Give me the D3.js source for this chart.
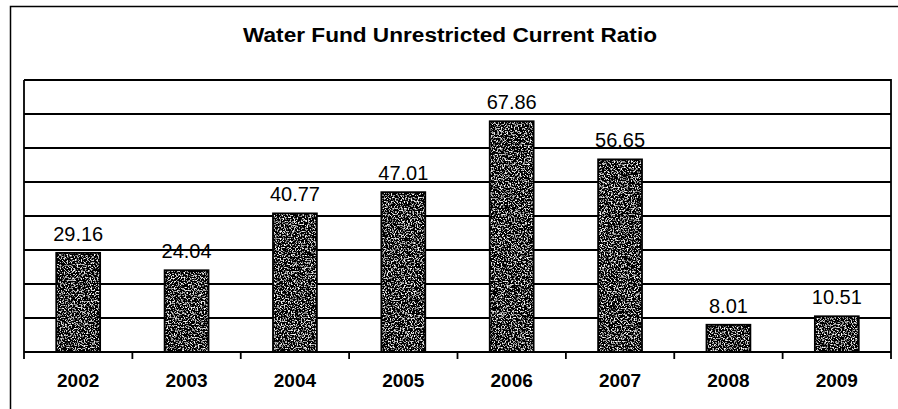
<!DOCTYPE html>
<html>
<head>
<meta charset="utf-8">
<script src="https://cdn.jsdelivr.net/npm/d3@7"></script>
<style>
  html, body { margin: 0; padding: 0; background: #fff; }
  svg { display: block; }
  text { font-family: "Liberation Sans", Arial, sans-serif; fill: #000; }
</style>
</head>
<body>
<svg id="chart" width="898" height="409"></svg>
<script>
// ---- data ----
const title = "Water Fund Unrestricted Current Ratio";
const years = ["2002", "2003", "2004", "2005", "2006", "2007", "2008", "2009"];
const ratios = [29.16, 24.04, 40.77, 47.01, 67.86, 56.65, 8.01, 10.51];
const gridValues = [10, 20, 30, 40, 50, 60, 70];
const yMax = 80;

// ---- layout ----
const W = 898, H = 409;
const plot = { left: 24, right: 891, top: 80, bottom: 352 };

const svg = d3.select("#chart");

// speckle filter for bar fill
const defs = svg.append("defs");
const f = defs.append("filter").attr("id", "speckle")
  .attr("x", 0).attr("y", 0).attr("width", 1).attr("height", 1);
f.append("feTurbulence").attr("type", "fractalNoise").attr("baseFrequency", 0.7)
  .attr("numOctaves", 2).attr("seed", 7).attr("result", "noise");
f.append("feColorMatrix").attr("in", "noise").attr("type", "matrix")
  .attr("values", "4.5 0 0 0 -2.3  4.5 0 0 0 -2.3  4.5 0 0 0 -2.3  0 0 0 0 1")
  .attr("result", "gray");
f.append("feComposite").attr("in", "gray").attr("in2", "SourceGraphic")
  .attr("operator", "in");

// outer chart border (left + top)
svg.append("path")
  .attr("d", `M10.5,${H} L10.5,6.5 L${W},6.5`)
  .attr("fill", "none").attr("stroke", "#000").attr("stroke-width", 1.5);

// title
svg.append("text")
  .attr("x", 450).attr("y", 42)
  .attr("text-anchor", "middle")
  .attr("font-size", 20).attr("font-weight", "bold")
  .attr("textLength", 414).attr("lengthAdjust", "spacingAndGlyphs")
  .text(title);

// scales
const x = d3.scaleBand().domain(years)
  .range([plot.left, plot.right]).paddingInner(0.595).paddingOuter(0.2975);
const y = d3.scaleLinear().domain([0, yMax]).range([plot.bottom, plot.top]);

// gridlines
svg.append("g").selectAll("line").data(gridValues).join("line")
  .attr("x1", plot.left).attr("x2", plot.right)
  .attr("y1", d => y(d)).attr("y2", d => y(d))
  .attr("stroke", "#000").attr("stroke-width", 1.8);

// plot border top / right / left
svg.append("path")
  .attr("d", `M${plot.left},${y(yMax)} L${plot.right},${y(yMax)} L${plot.right},${plot.bottom}`)
  .attr("fill", "none").attr("stroke", "#000").attr("stroke-width", 1.8);
svg.append("line")
  .attr("x1", plot.left).attr("x2", plot.left)
  .attr("y1", plot.top).attr("y2", plot.bottom)
  .attr("stroke", "#000").attr("stroke-width", 1.8);

// bars
const bars = svg.append("g");
bars.selectAll("rect.fill").data(ratios).join("rect")
  .attr("class", "fill")
  .attr("x", (d, i) => x(years[i]))
  .attr("y", d => y(d))
  .attr("width", x.bandwidth())
  .attr("height", d => y(0) - y(d))
  .attr("fill", "#000")
  .attr("filter", "url(#speckle)");
bars.selectAll("rect.edge").data(ratios).join("rect")
  .attr("class", "edge")
  .attr("x", (d, i) => x(years[i]))
  .attr("y", d => y(d))
  .attr("width", x.bandwidth())
  .attr("height", d => y(0) - y(d))
  .attr("fill", "none")
  .attr("stroke", "#000").attr("stroke-width", 1.8);

// value labels
svg.append("g").selectAll("text").data(ratios).join("text")
  .attr("x", (d, i) => x(years[i]) + x.bandwidth() / 2)
  .attr("y", d => y(d) - 12)
  .attr("text-anchor", "middle")
  .attr("font-size", 20)
  .text(d => d.toFixed(2));

// x axis
const xAxis = d3.axisBottom(x).tickSize(0).tickPadding(0);
const gx = svg.append("g").attr("transform", `translate(0,${plot.bottom})`).call(xAxis);
gx.select(".domain").attr("d", `M${plot.left},0H${plot.right}`)
  .attr("stroke", "#000").attr("stroke-width", 2);
gx.selectAll(".tick text")
  .attr("y", 35).attr("dy", null)
  .attr("font-size", 19).attr("font-weight", "bold")
  .attr("font-family", "Liberation Sans, Arial, sans-serif")
  .attr("fill", "#000");
// category boundary tick marks
const boundaries = years.map(d => x(d) - x.step() * x.paddingInner() / 2).concat([plot.right]);
boundaries[0] = plot.left;
gx.append("g").selectAll("line").data(boundaries).join("line")
  .attr("x1", d => d).attr("x2", d => d)
  .attr("y1", 0).attr("y2", 7)
  .attr("stroke", "#000").attr("stroke-width", 1.8);
</script>
</body>
</html>
